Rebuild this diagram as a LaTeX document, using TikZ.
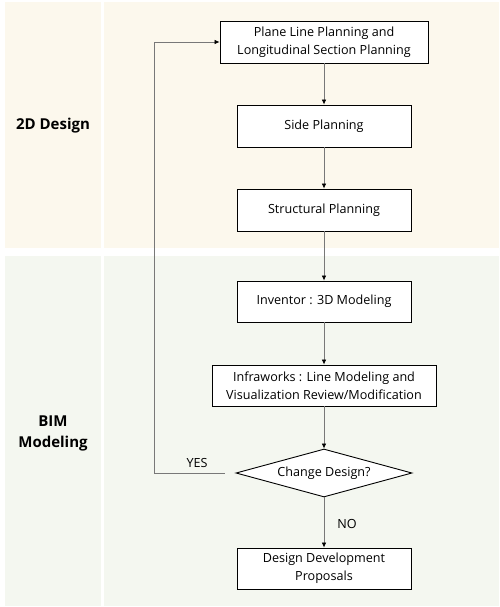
\documentclass[tikz,border=0pt]{standalone}
\usepackage{fontspec}
\setmainfont{Open Sans}
\usetikzlibrary{arrows.meta,shapes.geometric}
\definecolor{creamband}{RGB}{252,248,237}
\definecolor{greenband}{RGB}{244,247,240}
\definecolor{linegray}{RGB}{120,120,120}
\tikzset{
  stepbox/.style={draw=black, line width=0.9pt, fill=white, align=center,
    minimum width=174pt, minimum height=42pt, inner sep=2pt,
    font=\fontsize{12.6}{18}\selectfont},
  decision/.style={diamond, draw=black, line width=0.9pt, fill=white,
    aspect=3.67, inner sep=0pt, minimum width=176pt, minimum height=48pt,
    font=\fontsize{12.6}{14}\selectfont},
  conn/.style={draw=linegray, line width=0.7pt,
    -{Latex[length=5pt,width=4.5pt,color=black]}},
  phase/.style={font=\fontsize{15}{21}\selectfont\bfseries, align=center},
  branch/.style={font=\fontsize{12.6}{14}\selectfont}
}
\begin{document}
\begin{tikzpicture}[x=1pt,y=-1pt]
\useasboundingbox (0,0) rectangle (499,607);
% phase bands
\fill[creamband] (5,2) rectangle (101,248);
\fill[creamband] (104,2) rectangle (499,248);
\fill[greenband] (5,256) rectangle (101,606);
\fill[greenband] (104,256) rectangle (499,606);
\node[phase] (p2d) at (53,126) {2D Design};
\node[phase] (pbim) at (53,433) {BIM\\Modeling};
% process steps
\node[stepbox, minimum width=208pt] (b1) at (324,42) {Plane Line Planning and\\Longitudinal Section Planning};
\node[stepbox] (b2) at (324,126) {Side Planning};
\node[stepbox] (b3) at (324,210) {Structural Planning};
\node[stepbox, minimum height=41pt] (b4) at (324,301.5) {Inventor : 3D Modeling};
\node[stepbox, minimum width=224pt, minimum height=41pt] (b5) at (324,385.5) {Infraworks : Line Modeling and\\Visualization Review/Modification};
\node[decision] (dec) at (324,473) {Change Design?};
\node[stepbox, minimum height=41pt] (b6) at (324,568.5) {Design Development\\Proposals};
% connectors
\draw[conn] (b1) -- (b2);
\draw[conn] (b2) -- (b3);
\draw[conn] (b3) -- (b4);
\draw[conn] (b4) -- (b5);
\draw[conn] (b5) -- (dec);
\draw[conn] (dec) -- (b6);
\coordinate (yesend) at ([xshift=-11pt]dec.west);
\coordinate (turn) at (154,473);
\draw[conn] (yesend) -- (turn) |- (b1.west);
\node[branch] (yes) at (197,463) {YES};
\node[branch] (no) at (347,524) {NO};
\end{tikzpicture}
\end{document}
